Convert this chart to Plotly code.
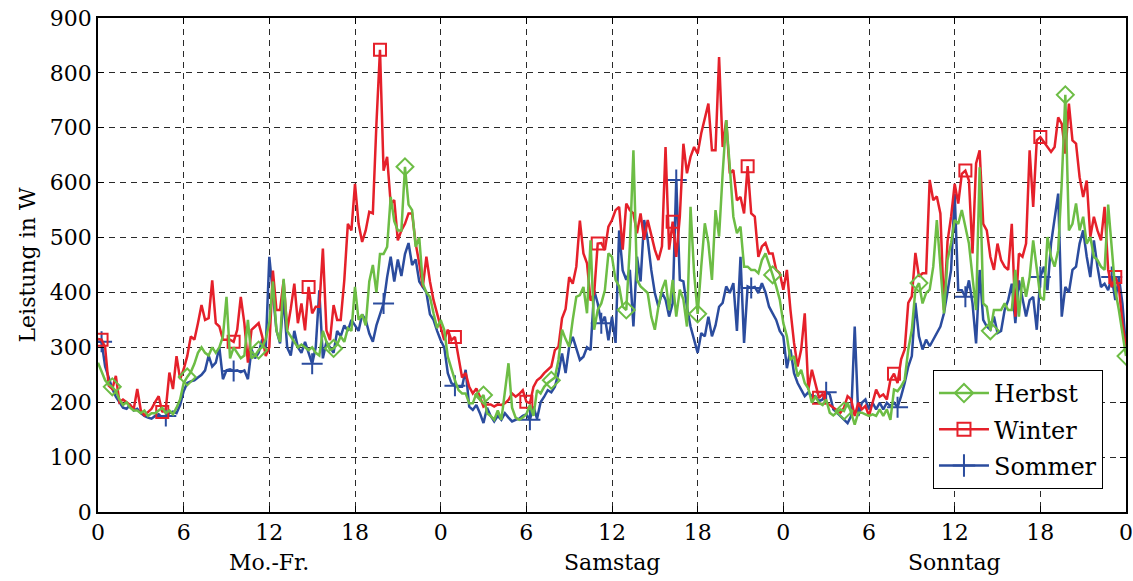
import plotly.graph_objects as go

# time axis: quarter-hour steps over three day types (0..72 h)
hours = [i * 0.25 for i in range(289)]

sommer_mofr = [310, 310, 265, 245, 225, 210, 200, 190,
               188, 195, 185, 188, 180, 175, 172, 170,
               175, 178, 172, 175, 180, 183, 180, 195,
               220, 235, 238, 240, 245, 250, 258, 285,
               265, 272, 300, 242, 258, 260, 257, 258,
               255, 258, 242, 296, 280, 290, 314, 300,
               465, 398, 331, 307, 392, 300, 285, 330,
               300, 290, 310, 290, 270, 300, 404, 280,
               310, 300, 290, 330, 320, 340, 330, 350,
               340, 330, 360, 350, 325, 310, 340, 360,
               380, 428, 465, 420, 460, 430, 470, 490,
               450, 460, 420, 410, 400, 360, 350, 330]
sommer_sa = [313, 300, 253, 235, 230, 228, 228, 259,
             192, 186, 195, 180, 162, 190, 175, 165,
             175, 168, 180, 172, 165, 168, 170, 175,
             178, 168, 192, 170, 200, 210, 222, 218,
             228, 253, 289, 253, 301, 319, 300, 277,
             283, 300, 295, 404, 380, 344, 356, 313,
             356, 308, 513, 440, 423, 441, 338, 465,
             420, 532, 496, 441, 399, 374, 400, 387,
             356, 380, 605, 423, 420, 374, 338, 314,
             290, 326, 320, 356, 320, 340, 374, 381,
             411, 399, 417, 330, 465, 308, 411, 408,
             410, 399, 417, 400, 374, 362, 350, 330]
sommer_so = [320, 262, 296, 253, 235, 223, 211, 218,
             211, 211, 202, 205, 218, 214, 187, 181,
             175, 168, 162, 175, 338, 175, 199, 205,
             187, 199, 187, 199, 187, 199, 193, 199,
             191, 211, 235, 265, 284, 381, 320, 296,
             314, 302, 314, 326, 338, 362, 405, 441,
             580, 404, 404, 392, 422, 380, 307, 441,
             350, 338, 332, 356, 326, 330, 368, 386,
             416, 344, 422, 386, 356, 386, 392, 332,
             428, 447, 404, 489, 538, 580, 356, 410,
             400, 441, 447, 489, 513, 465, 428, 495,
             447, 410, 416, 404, 428, 386, 428, 380,
             300]

winter_mofr = [315, 314, 300, 230, 224, 248, 200, 205,
               200, 195, 187, 224, 185, 176, 182, 188,
               200, 211, 182, 188, 254, 224, 284, 242,
               260, 284, 320, 314, 344, 377, 350, 353,
               422, 344, 338, 314, 314, 314, 310, 332,
               392, 344, 272, 332, 338, 344, 320, 284,
               300, 440, 368, 368, 422, 331, 370, 416,
               344, 380, 331, 410, 362, 374, 374, 480,
               331, 313, 377, 350, 350, 422, 525, 513,
               598, 525, 492, 513, 547, 544, 707, 842,
               622, 647, 562, 568, 495, 513, 525, 544,
               544, 489, 453, 410, 465, 420, 386, 362]
winter_sa = [337, 313, 332, 313, 319, 283, 245, 253,
             228, 216, 225, 210, 192, 196, 196, 192,
             196, 195, 198, 204, 216, 210, 215, 222,
             201, 198, 228, 240, 245, 253, 259, 265,
             295, 301, 353, 370, 428, 416, 447, 531,
             471, 453, 385, 398, 489, 490, 477, 520,
             532, 550, 556, 478, 562, 550, 544, 508,
             544, 496, 532, 502, 478, 459, 484, 665,
             478, 529, 465, 538, 671, 617, 647, 665,
             653, 690, 720, 744, 659, 659, 829, 665,
             714, 617, 623, 568, 574, 544, 630, 544,
             538, 465, 484, 490, 471, 471, 441, 435]
winter_so = [405, 441, 368, 308, 265, 296, 362, 223,
             259, 235, 208, 215, 199, 195, 190, 185,
             181, 190, 211, 205, 175, 199, 187, 193,
             175, 199, 223, 210, 214, 205, 241, 252,
             235, 278, 296, 381, 393, 472, 429, 435,
             435, 605, 568, 575, 544, 368, 493, 538,
             598, 562, 616, 622, 604, 471, 635, 659,
             525, 513, 465, 441, 489, 459, 447, 441,
             525, 356, 471, 465, 489, 659, 556, 677,
             683, 674, 665, 656, 665, 719, 707, 653,
             744, 677, 671, 610, 574, 604, 501, 538,
             513, 495, 556, 441, 410, 428, 410, 344,
             300]

herbst_mofr = [272, 255, 240, 232, 228, 220, 205, 195,
               200, 190, 185, 185, 180, 185, 175, 180,
               180, 185, 190, 180, 185, 178, 190, 205,
               235, 246, 255, 270, 290, 300, 290, 285,
               300, 290, 300, 320, 392, 280, 300, 290,
               280, 285, 350, 280, 285, 295, 300, 315,
               345, 420, 330, 310, 425, 330, 320, 310,
               300, 305, 300, 295, 300, 290, 285, 330,
               310, 295, 298, 305, 320, 310, 335, 330,
               410, 350, 360, 340, 420, 450, 400, 470,
               470, 483, 574, 530, 513, 513, 629, 560,
               550, 483, 500, 416, 400, 392, 362, 335]
herbst_sa = [350, 332, 283, 259, 240, 222, 216, 216,
             198, 198, 216, 205, 213, 180, 175, 168,
             185, 168, 216, 271, 190, 172, 168, 172,
             178, 195, 175, 222, 216, 228, 235, 240,
             245, 277, 332, 315, 301, 350, 392, 395,
             410, 362, 495, 332, 368, 380, 404, 471,
             465, 423, 411, 374, 368, 484, 659, 423,
             411, 405, 399, 356, 332, 374, 405, 423,
             368, 423, 356, 405, 387, 338, 556, 435,
             361, 447, 526, 490, 423, 550, 502, 617,
             714, 629, 538, 508, 520, 447, 447, 441,
             441, 435, 459, 471, 453, 432, 411, 387]
herbst_so = [344, 320, 277, 284, 247, 259, 235, 225,
             199, 210, 199, 195, 205, 181, 176, 181,
             187, 184, 199, 181, 159, 181, 181, 178,
             175, 178, 175, 187, 175, 187, 168, 223,
             220, 229, 241, 296, 332, 405, 417, 380,
             399, 405, 447, 532, 453, 362, 459, 490,
             532, 525, 550, 519, 489, 428, 368, 628,
             380, 374, 330, 368, 368, 368, 380, 368,
             368, 441, 356, 428, 392, 428, 495, 441,
             392, 386, 501, 465, 447, 477, 600, 760,
             513, 525, 562, 513, 538, 489, 501, 465,
             459, 447, 441, 560, 483, 404, 368, 325,
             284]

sommer = sommer_mofr + sommer_sa + sommer_so
winter = winter_mofr + winter_sa + winter_so
herbst = herbst_mofr + herbst_sa + herbst_so

# indices of samples that carry a marker
herbst_marks = [4, 25, 45, 66, 86, 108, 127, 148, 168, 189, 209, 230, 250, 271, 288]
winter_marks = [1, 18, 38, 59, 79, 100, 120, 140, 161, 182, 202, 223, 243, 264, 285]
sommer_marks = [1, 19, 38, 60, 80, 100, 121, 141, 162, 183, 204, 224, 243, 264, 284]

x_tickvals = [0, 6, 12, 18, 24, 30, 36, 42, 48, 54, 60, 66, 72]
x_ticktext = ["0", "6", "12", "18", "0", "6", "12", "18", "0", "6", "12", "18", "0"]
day_labels = ["Mo.-Fr.", "Samstag", "Sonntag"]
day_centers = [12, 36, 60]

GREEN = "#6dbd45"
RED = "#e5202a"
BLUE = "#2b4c9e"
FONT = "DejaVu Serif"

series = [
    dict(name="Sommer", y=sommer, marks=sommer_marks, color=BLUE, symbol="cross-thin", size=15, rank=3),
    dict(name="Winter", y=winter, marks=winter_marks, color=RED, symbol="square-open", size=12, rank=2),
    dict(name="Herbst", y=herbst, marks=herbst_marks, color=GREEN, symbol="diamond-open", size=13, rank=1),
]

fig = go.Figure()
for s in series:
    fig.add_trace(go.Scatter(
        x=hours, y=s["y"], mode="lines", showlegend=False,
        line=dict(color=s["color"], width=2.5), hoverinfo="skip"))
    fig.add_trace(go.Scatter(
        x=[hours[i] for i in s["marks"]], y=[s["y"][i] for i in s["marks"]],
        mode="markers", showlegend=False,
        marker=dict(symbol=s["symbol"], size=s["size"], color=s["color"],
                    line=dict(color=s["color"], width=2))))
for s in series:
    fig.add_trace(go.Scatter(
        x=[None], y=[None], mode="lines+markers", name=s["name"],
        legendrank=s["rank"], legendgroup=s["name"],
        line=dict(color=s["color"], width=2.5),
        marker=dict(symbol=s["symbol"], size=s["size"] + 1, color=s["color"],
                    line=dict(color=s["color"], width=2))))

for label, c in zip(day_labels, day_centers):
    fig.add_annotation(x=c, xref="x", y=-0.103, yref="paper", text=label,
                       showarrow=False, yanchor="middle",
                       font=dict(family=FONT, size=22, color="black"))

axis_common = dict(
    showline=True, linecolor="black", linewidth=1.5, mirror="ticks",
    ticks="inside", ticklen=6, tickwidth=1, tickcolor="black",
    showgrid=True, gridcolor="#2a2a2a", gridwidth=1, griddash="6px,5px",
    zeroline=False, automargin=False,
    tickfont=dict(family=FONT, size=22, color="black"),
)

fig.update_xaxes(range=[0, 72], tickmode="array", tickvals=x_tickvals,
                 ticktext=x_ticktext, **axis_common)
fig.update_yaxes(range=[0, 900], tickmode="linear", tick0=0, dtick=100,
                 title=dict(text="Leistung in W", standoff=8,
                            font=dict(family=FONT, size=22, color="black")),
                 **axis_common)

fig.update_layout(
    width=1133, height=581,
    margin=dict(l=98, r=7, t=18, b=69),
    paper_bgcolor="white", plot_bgcolor="white",
    font=dict(family=FONT, size=22, color="black"),
    legend=dict(x=0.9776, y=0.0466, xanchor="right", yanchor="bottom",
                traceorder="grouped",
                bgcolor="white", bordercolor="black", borderwidth=1,
                font=dict(family=FONT, size=24, color="black"),
                itemwidth=50, tracegroupgap=2),
)

fig.write_html("out.html", config={"displayModeBar": False},
               post_script="document.body.style.margin='0';")
